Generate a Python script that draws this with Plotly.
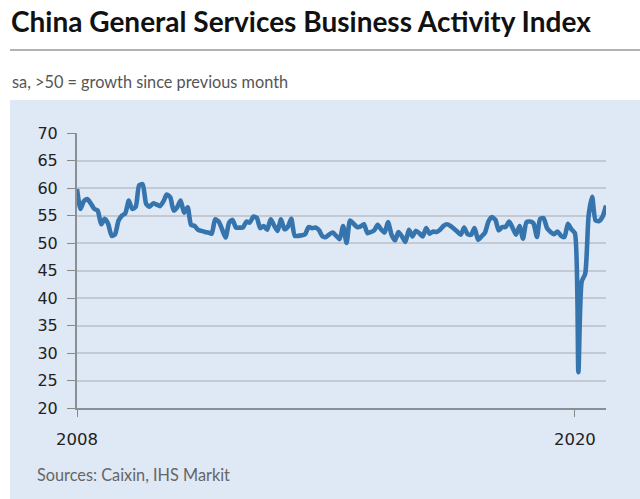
import plotly.graph_objects as go
import pandas as pd

start_month = "2008-01-01"
pmi_values = [
    # 2008
    59.8, 56.2, 57.6, 58.0, 57.2, 56.2, 55.9, 53.4, 54.4, 53.5, 51.3, 51.6,
    # 2009
    54.1, 55.0, 55.4, 57.7, 56.2, 56.6, 60.5, 60.7, 57.1, 56.6, 57.2, 57.0,
    # 2010
    56.7, 57.6, 58.8, 58.3, 55.9, 56.5, 57.7, 55.5, 56.5, 53.3, 53.1, 52.4,
    # 2011
    52.2, 52.0, 51.9, 51.7, 54.3, 53.9, 52.5, 51.0, 53.7, 54.2, 52.8, 52.8,
    # 2012
    52.8, 53.9, 53.7, 54.8, 54.6, 52.7, 53.1, 52.4, 54.3, 53.2, 52.2, 54.3,
    # 2013
    52.5, 53.0, 54.4, 51.3, 51.3, 51.4, 51.6, 52.9, 52.7, 52.8, 52.3, 51.2,
    # 2014
    51.1, 51.6, 51.9, 51.3, 50.7, 53.1, 50.0, 54.1, 53.5, 52.9, 53.0, 53.4,
    # 2015
    51.8, 52.0, 52.3, 53.3, 52.5, 51.9, 53.8, 51.5, 50.5, 52.0, 51.2, 50.2,
    # 2016
    52.4, 51.2, 52.2, 51.8, 51.2, 52.7, 51.7, 52.1, 52.0, 52.4, 53.1, 53.4,
    # 2017
    53.1, 52.6, 52.1, 51.5, 52.8, 51.6, 51.5, 52.7, 50.6, 51.2, 51.9, 53.9,
    # 2018
    54.7, 54.2, 52.3, 52.9, 52.9, 53.9, 52.8, 51.5, 53.1, 50.8, 53.8, 53.9,
    # 2019
    53.6, 51.1, 54.4, 54.5, 52.7, 52.0, 51.6, 52.1, 51.3, 51.1, 53.5, 52.5,
    # 2020
    51.8, 26.5, 43.0, 44.4, 55.0, 58.4, 54.1, 54.0, 54.8, 56.8,
]
months = pd.date_range(start_month, periods=len(pmi_values), freq="MS")

y_ticks = [20, 25, 30, 35, 40, 45, 50, 55, 60, 65, 70]
x_tick_dates = ["2008-01-01", "2020-01-01"]
x_tick_labels = ["2008", "2020"]

title_text = "China General Services Business Activity Index"
subtitle_text = "sa, >50 = growth since previous month"
source_text = "Sources: Caixin, IHS Markit"

W, H = 640, 499
L, R, T, B = 77, 34, 133, 91
pw, ph = W - L - R, H - T - B


def px(x):
    return (x - L) / pw


def py(y):
    return (H - B - y) / ph


panel = "#dfe8f5"
line_col = "#3674ae"

fig = go.Figure()
fig.add_trace(go.Scatter(
    x=months, y=pmi_values, mode="lines",
    line=dict(color=line_col, width=4.6, shape="spline", smoothing=0.6),
    hoverinfo="x+y", showlegend=False,
))

fig.update_layout(
    width=W, height=H,
    margin=dict(l=L, r=R, t=T, b=B, pad=0),
    paper_bgcolor="white",
    plot_bgcolor=panel,
    font=dict(family="DejaVu Sans", color="#222"),
    xaxis=dict(
        range=[months[0], months[-1]],
        tickvals=x_tick_dates, ticktext=x_tick_labels,
        ticks="outside", ticklen=7, tickwidth=1, tickcolor="#888",
        showgrid=False, zeroline=False,
        showline=True, linecolor="#8a8f96", linewidth=2,
        tickfont=dict(family="DejaVu Sans", size=16.5, color="#222"),
        ticklabelstandoff=8,
    ),
    yaxis=dict(
        range=[20, 70], tickvals=y_ticks,
        ticks="outside", ticklen=8, tickwidth=1, tickcolor="#888",
        showgrid=True, gridcolor="#c3cad4", gridwidth=1.5,
        zeroline=False,
        showline=True, linecolor="#8a8f96", linewidth=2,
        tickfont=dict(family="DejaVu Sans", size=16, color="#222"),
        ticklabelstandoff=6,
    ),
    shapes=[
        dict(type="rect", xref="paper", yref="paper",
             x0=px(10), x1=px(642), y0=py(500), y1=py(100),
             fillcolor=panel, line=dict(width=0), layer="below"),
        dict(type="line", xref="paper", yref="paper",
             x0=px(10), x1=px(642), y0=py(50), y1=py(50),
             line=dict(color="#9a9a9a", width=1.5)),
    ],
    annotations=[
        dict(text="<b>" + title_text + "</b>", xref="paper", yref="paper",
             x=px(9), y=py(21), xanchor="left", yanchor="middle", showarrow=False,
             font=dict(family="Lato", size=28, color="#111")),
        dict(text=subtitle_text, xref="paper", yref="paper",
             x=px(10), y=py(82), xanchor="left", yanchor="middle", showarrow=False,
             font=dict(family="Lato", size=16.3, color="#555")),
        dict(text=source_text, xref="paper", yref="paper",
             x=px(35), y=py(474), xanchor="left", yanchor="middle", showarrow=False,
             font=dict(family="Lato", size=16.3, color="#666")),
    ],
)

fig.write_html("out.html", config={"displayModeBar": False},
               post_script="document.body.style.margin='0';")
